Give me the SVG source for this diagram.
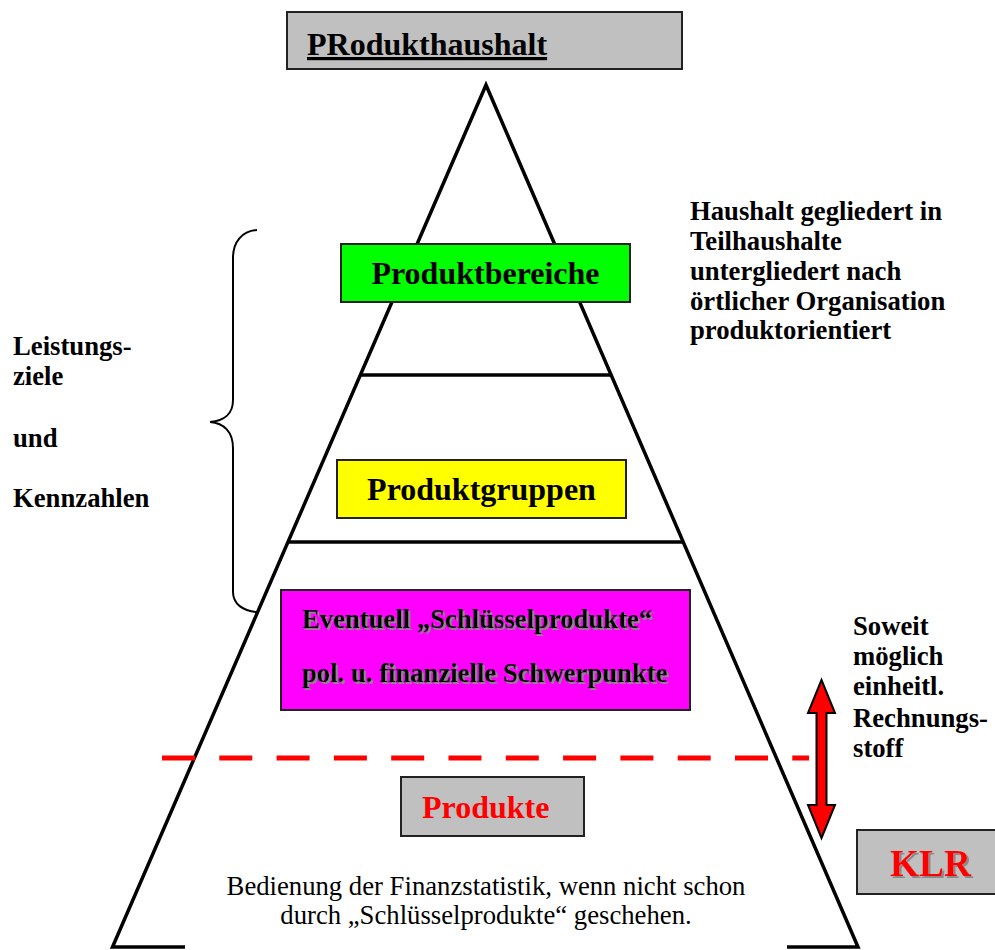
<svg xmlns="http://www.w3.org/2000/svg" width="995" height="950" viewBox="0 0 995 950">
<style>
.t{font-family:"Liberation Serif","Times New Roman",serif;font-weight:bold;fill:#000}
.r{font-family:"Liberation Serif","Times New Roman",serif;fill:#000}
.s20{font-size:26.7px}
.s24{font-size:32px}
.box{stroke:#222;stroke-width:2}
.ln{stroke:#000;stroke-width:3.5;fill:none;stroke-linecap:butt}
</style>
<defs>
<filter id="sh" x="-5%" y="-20%" width="110%" height="140%">
<feOffset in="SourceAlpha" dx="1.6" dy="1.6" result="o"/>
<feFlood flood-color="#8a8a8a"/>
<feComposite in2="o" operator="in" result="s"/>
<feMerge><feMergeNode in="s"/><feMergeNode in="SourceGraphic"/></feMerge>
</filter>
</defs>
<rect width="995" height="950" fill="#fff"/>

<g id="pyramid">
<path class="ln" d="M185,947 L112.5,947 L486,85 L858,947 L787,947" stroke-linejoin="miter"/>
<line class="ln" x1="360" y1="375" x2="611" y2="375" stroke-width="3"/>
<line class="ln" x1="288" y1="542" x2="683" y2="542" stroke-width="3"/>
</g>

<g id="title">
<rect class="box" x="287" y="12" width="395" height="57" fill="#c0c0c0"/>
<text class="t s24" x="307" y="55" text-decoration="underline">PRodukthaushalt</text>
</g>

<g id="produktbereiche">
<rect class="box" x="341" y="244" width="289" height="58" fill="#00ff00"/>
<text class="t s24" x="485.5" y="284" text-anchor="middle">Produktbereiche</text>
</g>

<g id="produktgruppen">
<rect class="box" x="337" y="460" width="289" height="58" fill="#ffff00"/>
<text class="t s24" x="481.5" y="500" text-anchor="middle">Produktgruppen</text>
</g>

<g id="schluesselprodukte">
<rect class="box" x="281" y="590" width="409" height="120" fill="#ff00ff"/>
<text class="t s20" x="302" y="628" filter="url(#sh)">Eventuell „Schlüsselprodukte“</text>
<text class="t s20" x="302" y="682" filter="url(#sh)">pol. u. finanzielle Schwerpunkte</text>
</g>

<g id="produkte">
<rect class="box" x="401" y="777" width="183" height="59" fill="#c0c0c0"/>
<text class="t s24" x="422" y="818" fill="#ff0000" style="fill:#ff0000">Produkte</text>
</g>

<g id="klr">
<rect class="box" x="857" y="830" width="145" height="64" fill="#c0c0c0"/>
<text class="t" x="890" y="876" style="font-size:37.3px;fill:#ff0000" filter="url(#sh)">KLR</text>
</g>

<g id="finanzstatistik">
<text class="r s20" x="486" y="895" text-anchor="middle">Bedienung der Finanzstatistik, wenn nicht schon</text>
<text class="r s20" x="486" y="924" text-anchor="middle">durch „Schlüsselprodukte“ geschehen.</text>
</g>

<g id="haushalt-note">
<text class="t s20" x="690" y="220">Haushalt gegliedert in</text>
<text class="t s20" x="690" y="250">Teilhaushalte</text>
<text class="t s20" x="690" y="280">untergliedert nach</text>
<text class="t s20" x="690" y="310">örtlicher Organisation</text>
<text class="t s20" x="690" y="339">produktorientiert</text>
</g>

<g id="leistungsziele">
<text class="t s20" x="13" y="355">Leistungs-</text>
<text class="t s20" x="13" y="385">ziele</text>
<text class="t s20" x="13" y="447">und</text>
<text class="t s20" x="13" y="507">Kennzahlen</text>
</g>

<g id="rechnungsstoff">
<text class="t s20" x="853" y="635">Soweit</text>
<text class="t s20" x="853" y="665">möglich</text>
<text class="t s20" x="853" y="695">einheitl.</text>
<text class="t s20" x="853" y="727">Rechnungs-</text>
<text class="t s20" x="853" y="757">stoff</text>
</g>

<g id="connectors">
<path d="M257,230 C242,231 233,242 233,258 L233,400 C233,414 224,421 210,422 C224,423 233,432 233,448 L233,592 C233,604 243,611 257,612" fill="none" stroke="#000" stroke-width="2"/>
<line x1="162" y1="758" x2="809" y2="758" stroke="#ff0000" stroke-width="5" stroke-dasharray="33 24.3"/>
<polygon points="821.5,680 835,713 826.5,713 826.5,805 835,805 821.5,838 808,805 816.5,805 816.5,713 808,713" fill="#ff0000" stroke="#000" stroke-width="2" stroke-linejoin="miter"/>
</g>
</svg>
